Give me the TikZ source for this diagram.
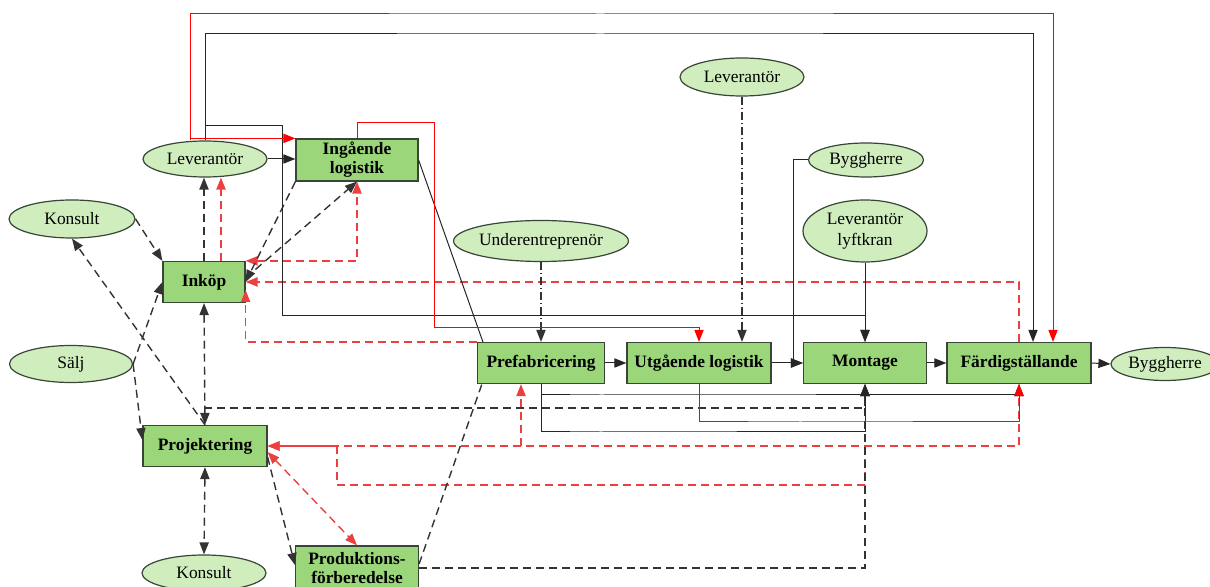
\documentclass[tikz,border=0pt]{standalone}
\usepackage{fontspec}
\setmainfont{Liberation Serif}
\usepackage{tikz}
\usetikzlibrary{arrows.meta,calc,shapes.geometric}

\definecolor{boxgreen}{RGB}{155,214,122}
\definecolor{ovalgreen}{RGB}{208,237,190}
\definecolor{edgegray}{RGB}{55,70,55}
\definecolor{dashred}{RGB}{236,64,64}

\begin{document}
\begin{tikzpicture}[x=0.5pt,y=-0.5pt,
  font=\fontsize{8.7}{10.4}\selectfont,
  >={Triangle[length=6pt,width=4.6pt]},
  box/.style={draw=edgegray,fill=boxgreen,line width=0.6pt,minimum height=20.5pt,inner sep=1pt,
    font=\fontsize{8.7}{9.6}\selectfont\bfseries,align=center},
  oval/.style={ellipse,draw=edgegray,fill=ovalgreen,line width=0.6pt,inner sep=0pt,align=center},
  sline/.style={line width=0.5pt,black!85},
  dline/.style={line width=0.7pt,dash pattern=on 4pt off 2.5pt,black!80},
  rline/.style={line width=0.5pt,red},
  rdash/.style={line width=0.7pt,dash pattern=on 4pt off 2.5pt,dashred},
  ddline/.style={line width=0.6pt,dash pattern=on 4pt off 1.5pt on 0.5pt off 1.5pt,black!80}
]
\useasboundingbox (0,0) rectangle (1210,587);

% Actors
\node[oval,minimum width=62pt,minimum height=18pt] (levA) at (205,159) {Leverantör};
\node[oval,minimum width=63pt,minimum height=19pt] (konsA) at (72,219) {Konsult};
\node[oval,minimum width=61.5pt,minimum height=18.5pt] (salj) at (71,364) {Sälj};
\node[oval,minimum width=62pt,minimum height=18pt] (konsB) at (204,573) {Konsult};
\node[oval,minimum width=62pt,minimum height=19pt] (levB) at (742,77) {Leverantör};
\node[oval,minimum width=85pt,minimum height=20.5pt] (under) at (541,241) {Underentreprenör};
\node[oval,minimum width=57.5pt,minimum height=17pt] (byggA) at (866,160) {Byggherre};
\node[oval,minimum width=62pt,minimum height=31pt] (lyft) at (865,231) {Leverantör\\lyftkran};
\node[oval,minimum width=54pt,minimum height=16.5pt] (byggB) at (1165,364) {Byggherre};

% Activities
\node[box,minimum width=61pt,minimum height=21pt] (ingl) at (357,160) {Ingående\\logistik};
\node[box,minimum width=41pt] (inkop) at (204,282) {Inköp};
\node[box,minimum width=62pt] (proj) at (205,446) {Projektering};
\node[box,minimum width=61.5pt,minimum height=22pt] (prod) at (357,568) {Produktions-\\förberedelse};
\node[box,minimum width=63.5pt] (pref) at (541,363) {Prefabricering};
\node[box,minimum width=72pt] (utg) at (699,363) {Utgående logistik};
\node[box,minimum width=61.5pt] (mont) at (865,363) {Montage};
\node[box,minimum width=72pt] (fard) at (1019,363) {Färdigställande};

% Bends
\coordinate (topR) at (600,14);
\coordinate (topB) at (600,34);
\coordinate (kA) at (282,316);
\coordinate (rA) at (434,123);
\coordinate (rB) at (434,328);
\coordinate (jnA) at (204,408);
\coordinate (rP) at (521,446);
\coordinate (rM) at (865,446);
\coordinate (rL) at (337,485);
\coordinate (bA) at (600,395);
\coordinate (bB) at (600,432);
\coordinate (rC) at (800,422);
\coordinate (bC) at (793,363);
\coordinate (iR) at ($(inkop.north)+(17,0)$);
\coordinate (lR) at ($(levA.north)+(-15,0)$);

% Information flow (red, dashed)
\draw[rdash,->] (fard.north) |- (inkop.east);
\draw[rdash,->] (pref.north west) -| ([yshift=-4pt]inkop.east);
\draw[rdash,<->] (inkop.north east) -| (ingl.south);
\draw[rdash,<->] (proj.east) -| (fard.south);
\draw[rdash,->] (rP) -- (rP |- pref.south);
\draw[rdash,->] (rM) |- (rL) |- (proj.east);
\draw[rdash,->] (iR) -- (iR |- levA.south);
\draw[rdash,<->] ([yshift=-3pt]proj.east) -- (prod.north);

% Dashed links
\draw[dline,->] (inkop.north) -- (inkop.north |- levA.south);
\draw[dline,->] (ingl.south west) -- (inkop.east);
\draw[dline,->] ([yshift=2pt]inkop.east) -- (ingl.south);
\draw[dline,->] (konsA.east) -- (inkop.north west);
\draw[dline,->] (salj.east) -- (inkop.west);
\draw[dline,->] (salj.east) -- ([yshift=3pt]proj.west);
\draw[dline,->] (proj.north) -- (konsA.south);
\draw[dline,<->] (inkop.south) -- (proj.north);
\draw[dline,->] (jnA) -| (mont.south);
\draw[dline,<->] (proj.south) -- (konsB.north);
\draw[dline,->] ([yshift=-5.5pt]proj.east) -- ([yshift=1.5pt]prod.west);
\draw[dline] ([yshift=2pt]prod.east) -- ([xshift=2.5pt]pref.south west);
\draw[dline,->] (prod.east) -| (mont.south);

% Material flow
\draw[sline,->] (levA.north) |- (topB) -| ([xshift=7pt]fard.north);
\draw[sline,->] ($(levA.north)+(0,-15)$) -| (kA) -| (mont.north);
\draw[sline,->] (levA.east) -- (levA.east -| ingl.west);
\draw[sline] (ingl.east) -- ([xshift=3pt]pref.north west);
\draw[sline,->] (pref.south) |- (bA) -| (fard.south);
\draw[sline,->] (pref.south) |- (bB) -| (mont.south);
\draw[sline,->] (pref.east) -- (utg.west);
\draw[sline,->] (utg.east) -- (mont.west);
\draw[sline,->] (byggA.west) -| (bC) -- (mont.west);
\draw[sline,->] (mont.east) -- (fard.west);
\draw[sline,->] (fard.east) -- (byggB.west);
\draw[sline,->] (lyft.south) -- (mont.north);
\draw[ddline,->] (levB.south) -- (levB.south |- utg.north);
\draw[ddline,->] (under.south) -- (pref.north);

% Red solid
\draw[rline,->] (lR) |- (topR) -| ([xshift=17pt]fard.north);
\draw[rline,->] (lR |- ingl.north) -- (ingl.north west);
\draw[rline,->] (ingl.north) |- (rA) -- (rB) -| (utg.north);
\draw[rline,->] (utg.south) |- (rC) -| (fard.south);
\end{tikzpicture}
\end{document}
